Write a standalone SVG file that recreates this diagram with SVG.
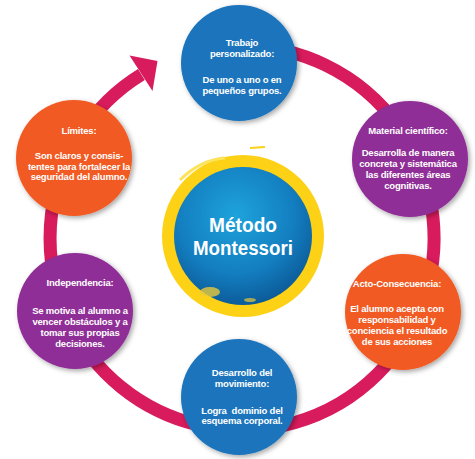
<svg xmlns="http://www.w3.org/2000/svg" width="475" height="459" viewBox="0 0 475 459">
<defs>
<filter id="sh" x="-20%" y="-20%" width="140%" height="140%">
<feDropShadow dx="2" dy="2" stdDeviation="2.5" flood-color="#000" flood-opacity="0.35"/>
</filter>
<radialGradient id="cg" cx="45%" cy="35%" r="70%">
<stop offset="0" stop-color="#1ea3dc"/>
<stop offset="0.6" stop-color="#137ec0"/>
<stop offset="1" stop-color="#0b5592"/>
</radialGradient>
<style>
.blue{fill:#1b75bc}
.purple{fill:#8f2d96}
.orange{fill:#f15a24}
.t{font-family:"Liberation Sans",Arial,sans-serif;font-weight:bold;font-size:9.5px;letter-spacing:-0.2px;fill:#fff;text-anchor:middle}
.c{font-family:"Liberation Sans",Arial,sans-serif;font-weight:bold;font-size:20px;fill:#fff;text-anchor:middle}
</style>
</defs>
<rect width="475" height="459" fill="#fff"/>
<g id="connectors">
<path d="M 242 46 A 192 192 0 1 1 141.4 74.5" fill="none" stroke="#d81b5c" stroke-width="13"/>
<polygon points="157.5,61 129.5,55.5 152.5,91" fill="#d81b5c"/>
</g>
<g id="center">
<circle cx="243" cy="236" r="81" fill="#fcd116"/>
<path d="M 180 180 Q 200 160 225 158" fill="none" stroke="#fde35a" stroke-width="3"/>
<path d="M 250 148 L 265 147" fill="none" stroke="#fcd116" stroke-width="2"/>
<circle cx="243" cy="236" r="69" fill="url(#cg)"/>
<ellipse cx="210" cy="292" rx="10" ry="5" fill="#e8c93a" opacity="0.8"/>
<ellipse cx="250" cy="300" rx="6" ry="2" fill="#e8c93a" opacity="0.7"/>
<text class="c" x="243" y="232" textLength="68" lengthAdjust="spacingAndGlyphs">Método</text>
<text class="c" x="243" y="255" textLength="100" lengthAdjust="spacingAndGlyphs">Montessori</text>
</g>
<g id="trabajo">
<circle class="blue" cx="239" cy="63" r="58" filter="url(#sh)"/>
<text class="t" x="242" y="45.5">Trabajo</text>
<text class="t" x="242" y="57">personalizado:</text>
<text class="t" x="242" y="82.5">De uno a uno o en</text>
<text class="t" x="242" y="94">pequeños grupos.</text>
</g>
<g id="material">
<circle class="purple" cx="410" cy="159" r="58" filter="url(#sh)"/>
<text class="t" x="408" y="134">Material científico:</text>
<text class="t" x="408" y="156">Desarrolla de manera</text>
<text class="t" x="408" y="167">concreta y sistemática</text>
<text class="t" x="408" y="177.5">las diferentes áreas</text>
<text class="t" x="408" y="188.5">cognitivas.</text>
</g>
<g id="acto">
<circle class="orange" cx="403" cy="312" r="58" filter="url(#sh)"/>
<text class="t" x="397" y="286.5">Acto-Consecuencia:</text>
<text class="t" x="397" y="312">El alumno acepta con</text>
<text class="t" x="397" y="323">responsabilidad y</text>
<text class="t" x="397" y="333.5">conciencia el resultado</text>
<text class="t" x="397" y="344.5">de sus acciones</text>
</g>
<g id="desarrollo">
<circle class="blue" cx="239" cy="397" r="58" filter="url(#sh)"/>
<text class="t" x="242" y="376">Desarrollo del</text>
<text class="t" x="242" y="387">movimiento:</text>
<text class="t" x="242" y="413.5" xml:space="preserve">Logra  dominio del</text>
<text class="t" x="242" y="424">esquema corporal.</text>
</g>
<g id="independencia">
<circle class="purple" cx="75" cy="311" r="58" filter="url(#sh)"/>
<text class="t" x="80" y="286">Independencia:</text>
<text class="t" x="80" y="314">Se motiva al alumno a</text>
<text class="t" x="80" y="325">vencer obstáculos y a</text>
<text class="t" x="80" y="336">tomar sus propias</text>
<text class="t" x="80" y="347">decisiones.</text>
</g>
<g id="limites">
<circle class="orange" cx="74" cy="158" r="58" filter="url(#sh)"/>
<text class="t" x="79" y="134">Límites:</text>
<text class="t" x="79" y="158.5">Son claros y consis-</text>
<text class="t" x="79" y="169.5">tentes para fortalecer la</text>
<text class="t" x="79" y="180">seguridad del alumno.</text>
</g>
</svg>
